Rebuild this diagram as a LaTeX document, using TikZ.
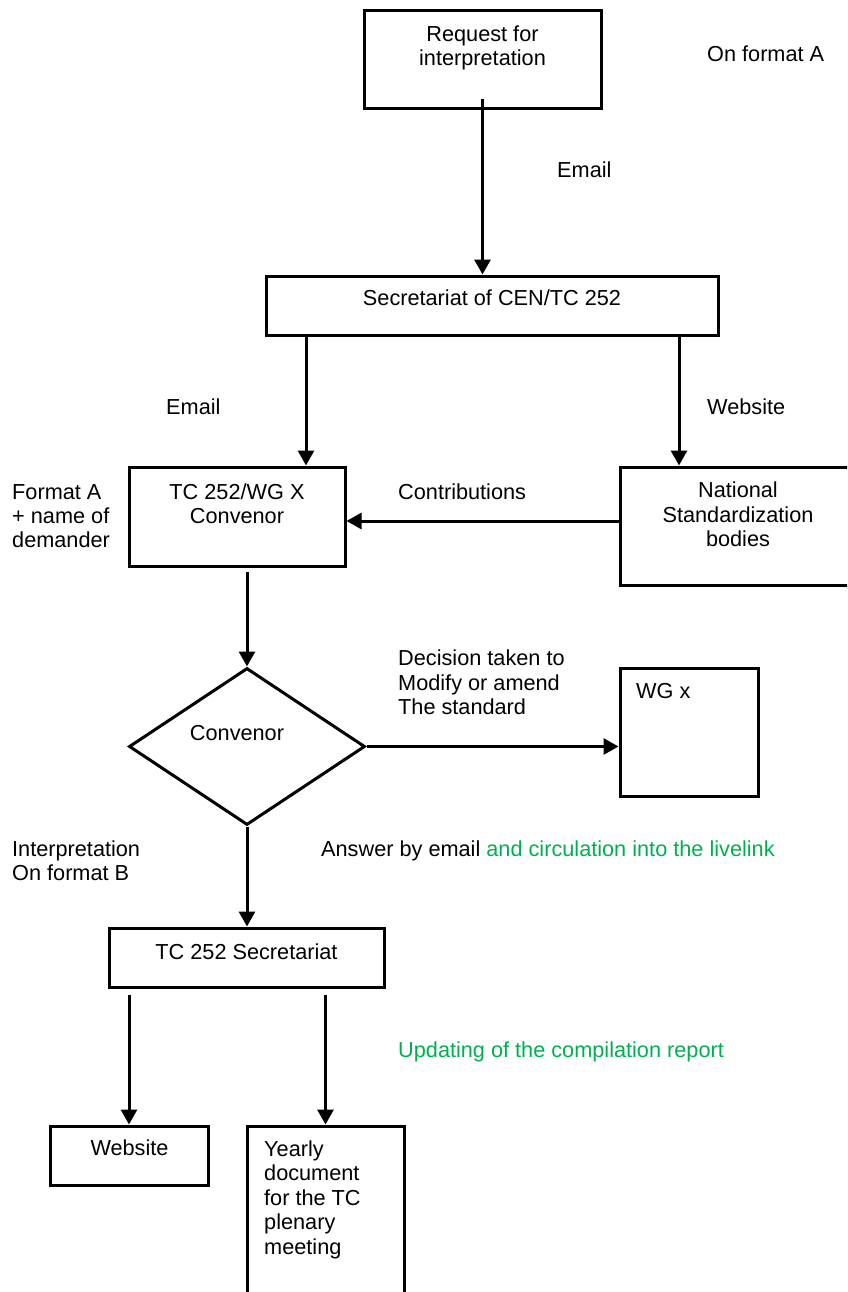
\documentclass[tikz,border=0pt]{standalone}
\usepackage{fontspec}
\setmainfont{Liberation Sans}
\usetikzlibrary{arrows.meta,shapes.geometric,calc}
\definecolor{txtgreen}{RGB}{0,176,80}
\begin{document}
\begin{tikzpicture}[x=1pt,y=-1pt,
  box/.style={draw,line width=3pt,rectangle,inner sep=0pt},
  arr/.style={line width=3pt,-{Triangle[length=15pt,width=16pt]}},
  lbl/.style={inner sep=0pt,font=\fontsize{21.7}{24.5}\selectfont},
  lblw/.style={lbl,anchor=base west},
  lblc/.style={lbl,anchor=base},
  grn/.style={text=txtgreen}]
\useasboundingbox (0,0) rectangle (847,1292);
\begin{scope}
\clip (0,0) rectangle (847,1292);
% boxes
\node[box,minimum width=237pt,minimum height=98pt] (req) at (482.5,60) {};
\node[box,minimum width=452pt,minimum height=59pt] (sec) at (492,305.5) {};
\node[box,minimum width=216pt,minimum height=99pt] (conv) at (237,516.5) {};
\node[box,minimum width=250pt,minimum height=118pt] (nat) at (745,526) {};
\node[draw,line width=3pt,diamond,aspect=1.503,minimum width=236pt,minimum height=157pt,inner sep=0pt] (dia) at (247,746.5) {};
\node[box,minimum width=138pt,minimum height=128pt] (wg) at (689,732) {};
\node[box,minimum width=275pt,minimum height=59pt] (tcs) at (246.5,957.5) {};
\node[box,minimum width=158pt,minimum height=59pt] (web) at (129,1155.5) {};
\node[box,minimum width=157pt,minimum height=190pt] (year) at (325.5,1221) {};
\end{scope}
% helper coordinates
\coordinate (xL) at (306,0);
\coordinate (xR) at (679,0);
\coordinate (yC) at (0,521);
% connectors
\draw[arr] ($(req.south)+(0,-11)$) -- (req.south |- sec.north);
\draw[arr] (sec.south -| xL) -- (conv.north -| xL);
\draw[arr] (sec.south -| xR) -- (nat.north -| xR);
\draw[arr] (nat.west |- yC) -- (conv.east |- yC);
\draw[arr] ($(dia.north |- conv.south)+(0,4)$) -- (dia.north);
\draw[arr] (dia.east) -- (wg.west |- dia.east);
\draw[arr] (dia.south) -- (dia.south |- tcs.north);
\draw[arr] ($(web.north |- tcs.south)+(0,6)$) -- (web.north);
\draw[arr] ($(year.north |- tcs.south)+(0,6)$) -- (year.north);
% texts
\node[lblc] (t1a) at (482.5,42) {Request for};
\node[lblc] (t1b) at (482.5,66) {interpretation};
\node[lblw] (t2) at (707,62) {On format A};
\node[lblw] (t3) at (557,178) {Email};
\node[lblc] (t4) at (492,305) {Secretariat of CEN/TC 252};
\node[lblw] (t5) at (166,414) {Email};
\node[lblw] (t6) at (707,414) {Website};
\node[lblc] (t7a) at (237,499) {TC 252/WG X};
\node[lblc] (t7b) at (237,523) {Convenor};
\node[lblw] (t8) at (398,499) {Contributions};
\node[lblw] (t9a) at (12,499) {Format A};
\node[lblw] (t9b) at (12,523) {+ name of};
\node[lblw] (t9c) at (12,547) {demander};
\node[lblc] (t10a) at (738,497) {National};
\node[lblc] (t10b) at (738,522) {Standardization};
\node[lblc] (t10c) at (738,546) {bodies};
\node[lblc] (t11) at (237,740) {Convenor};
\node[lblw] (t12a) at (398,665) {Decision taken to};
\node[lblw] (t12b) at (398,690) {Modify or amend};
\node[lblw] (t12c) at (398,714) {The standard};
\node[lblw] (t13) at (636,698) {WG x};
\node[lblw] (t14a) at (12,856) {Interpretation};
\node[lblw] (t14b) at (12,880) {On format B};
\node[lblw] (t15) at (321,856) {Answer by email \textcolor{txtgreen}{and circulation into the livelink}};
\node[lblc] (t16) at (246.5,959) {TC 252 Secretariat};
\node[lblw,grn] (t17) at (398,1057) {Updating of the compilation report};
\node[lblc] (t18) at (129.5,1155) {Website};
\node[lblw] (t19a) at (264,1156) {Yearly};
\node[lblw] (t19b) at (264,1180.5) {document};
\node[lblw] (t19c) at (264,1205) {for the TC};
\node[lblw] (t19d) at (264,1229.5) {plenary};
\node[lblw] (t19e) at (264,1254) {meeting};
\end{tikzpicture}
\end{document}
